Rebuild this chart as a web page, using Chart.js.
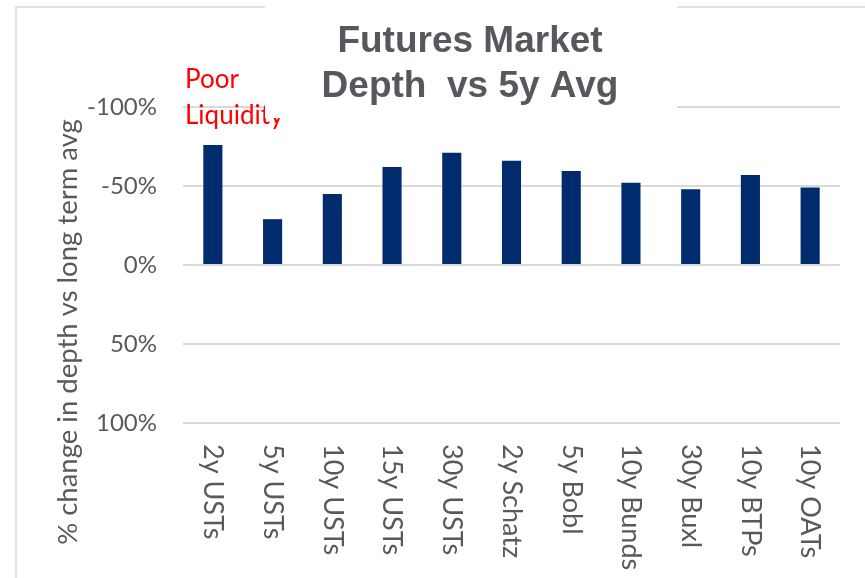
<!DOCTYPE html>
<html>
<head>
<meta charset="utf-8">
<script src="https://cdn.jsdelivr.net/npm/chart.js@4"></script>
<style>
  body { margin: 0; background: #fff; }
  #wrap { width: 865px; height: 578px; }
</style>
</head>
<body>
<div id="wrap"><canvas id="c" width="865" height="578"></canvas></div>
<script>
const categories = ['2y USTs', '5y USTs', '10y USTs', '15y USTs', '30y USTs', '2y Schatz', '5y Bobl', '10y Bunds', '30y Buxl', '10y BTPs', '10y OATs']
const depthChange = [-76, -29, -45, -62, -71, -66, -59.5, -52, -48, -57, -49]
const yMin = -100, yMax = 100, yStep = 50
const titleLines = ['Futures Market', 'Depth  vs 5y Avg']
const yTitle = '% change in depth vs long term avg'
const noteLines = ['Poor', 'Liquidity']

const grey = '#595959'
const lineGrey = '#d9d9d9'
const baseFont = 'Lato, "Open Sans", sans-serif'

// labels, axis title, note and title box drawn on top of the chart
const decor = {
    id: 'decor',
    afterDraw(chart) {
        const ctx = chart.ctx
        ctx.save()

        ctx.strokeStyle = lineGrey
        ctx.lineWidth = 1.5
        ctx.beginPath()
        ctx.moveTo(16, 578)
        ctx.lineTo(16, 7)
        ctx.lineTo(865, 7)
        ctx.stroke()

        ctx.fillStyle = grey
        ctx.font = '27.5px ' + baseFont
        ctx.save()
        ctx.translate(68, 332)
        ctx.rotate(-Math.PI / 2)
        ctx.textAlign = 'center'
        ctx.textBaseline = 'middle'
        ctx.fillText(yTitle, 0, 0)
        ctx.restore()

        const xs = chart.scales.x
        ctx.font = '27px ' + baseFont
        categories.forEach((c, i) => {
            ctx.save()
            ctx.translate(xs.getPixelForTick(i), 444)
            ctx.rotate(Math.PI / 2)
            ctx.textAlign = 'left'
            ctx.textBaseline = 'middle'
            ctx.fillText(c, 0, 0)
            ctx.restore()
        })

        ctx.fillStyle = '#ff0000'
        ctx.font = '26px ' + baseFont
        ctx.textAlign = 'left'
        ctx.textBaseline = 'alphabetic'
        ctx.fillText(noteLines[0], 185, 88)
        ctx.fillText(noteLines[1], 185, 124)

        ctx.fillStyle = '#ffffff'
        ctx.fillRect(265, 0, 412, 118)

        ctx.fillStyle = '#55585c'
        ctx.font = 'bold 37px "Liberation Sans", Arial, sans-serif'
        ctx.textAlign = 'center'
        ctx.fillText(titleLines[0], 470, 52)
        ctx.fillText(titleLines[1], 470, 97)

        ctx.restore()
    }
}

new Chart(document.getElementById('c'), {
    type: 'bar',
    data: {
        labels: categories,
        datasets: [{
            data: depthChange,
            backgroundColor: '#002b6c',
            borderWidth: 0,
            barPercentage: 0.32,
            categoryPercentage: 1
        }]
    },
    options: {
        responsive: false,
        animation: false,
        layout: { padding: { top: 107, right: 25, bottom: 0, left: 0 } },
        plugins: { legend: { display: false }, tooltip: { enabled: false } },
        scales: {
            x: {
                grid: { display: false },
                border: { display: false },
                ticks: { display: false },
                afterFit(scale) { scale.height = 155 }
            },
            y: {
                reverse: true,
                min: yMin,
                max: yMax,
                ticks: {
                    stepSize: yStep,
                    padding: 26,
                    color: grey,
                    font: { family: baseFont, size: 24 },
                    callback: v => v + '%'
                },
                grid: { color: lineGrey, lineWidth: 2, drawTicks: false },
                border: { display: false },
                afterFit(scale) { scale.width = 183 }
            }
        }
    },
    plugins: [decor]
})
</script>
</body>
</html>
